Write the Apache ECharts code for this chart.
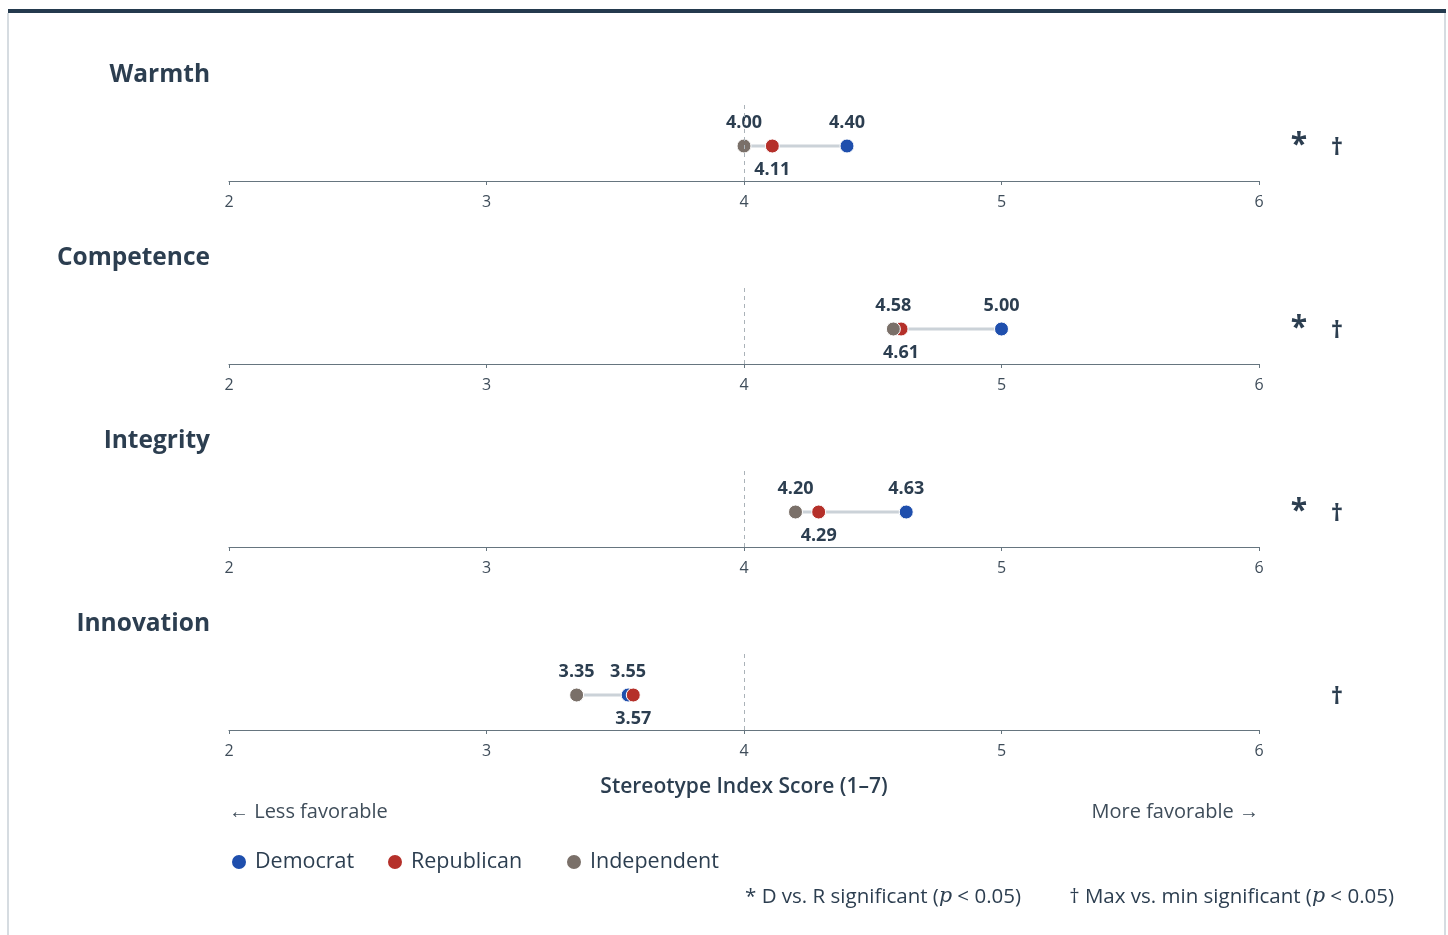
<!DOCTYPE html>
<html>
<head>
<meta charset="utf-8">
<title>Stereotype Index Scores by Party</title>
<script src="https://cdn.jsdelivr.net/npm/echarts@6/dist/echarts.min.js"></script>
<style>
  html, body { margin: 0; padding: 0; background: #ffffff; }
  #chart { width: 1448px; height: 935px; }
</style>
</head>
<body>
<div id="chart"></div>
<script>
// Stereotype dimensions, one panel each
const categories = ['Warmth', 'Competence', 'Integrity', 'Innovation'];

// Mean index scores by party identification
const democrat    = [4.40, 5.00, 4.63, 3.55];
const republican  = [4.11, 4.61, 4.29, 3.57];
const independent = [4.00, 4.58, 4.20, 3.35];

// Significance flags per dimension
const sigDvR    = [true, true, true, false];
const sigMaxMin = [true, true, true, true];

// Score axis ticks
const xTicks = [2, 3, 4, 5, 6];
const midpoint = 4;

const COLORS = {
  Democrat: '#1f4fad',
  Republican: '#b5302a',
  Independent: '#7a7069'
};
const INK = '#2c3e50';
const SOFT_INK = '#3f4d5a';
const FONT = '"Open Sans", "Noto Sans", sans-serif';

// Layout of the stacked panels
const PANEL_LEFT = 229;
const PANEL_RIGHT = 1259;
const FIRST_AXIS_Y = 181;
const PANEL_STEP = 183;
const PANEL_HEIGHT = 80;
const DOT_LEVEL = 35;   // height of the dot row above each axis, in panel units

const chart = echarts.init(document.getElementById('chart'), null, { renderer: 'canvas' });

const grids = [], xAxes = [], yAxes = [], series = [], graphics = [];

categories.forEach((cat, i) => {
  const axisY = FIRST_AXIS_Y + i * PANEL_STEP;
  grids.push({
    left: PANEL_LEFT,
    width: PANEL_RIGHT - PANEL_LEFT,
    top: axisY - PANEL_HEIGHT,
    height: PANEL_HEIGHT
  });
  xAxes.push({
    type: 'value',
    gridIndex: i,
    min: xTicks[0],
    max: xTicks[xTicks.length - 1],
    interval: 1,
    axisLine: { show: true, lineStyle: { color: '#66757f', width: 1.2 } },
    axisTick: { show: true, length: 4, lineStyle: { color: '#66757f' } },
    axisLabel: { color: SOFT_INK, fontSize: 16, fontFamily: FONT, margin: 13 },
    splitLine: { show: false }
  });
  yAxes.push({
    type: 'value',
    gridIndex: i,
    min: 0,
    max: PANEL_HEIGHT,
    show: false
  });

  const vals = [democrat[i], republican[i], independent[i]];
  const lo = Math.min(...vals), hi = Math.max(...vals);

  // connector between lowest and highest party score, plus midpoint reference
  series.push({
    type: 'line',
    xAxisIndex: i,
    yAxisIndex: i,
    data: [[lo, DOT_LEVEL], [hi, DOT_LEVEL]],
    symbol: 'none',
    silent: true,
    z: 1,
    lineStyle: { color: '#cbd2d8', width: 3 },
    markLine: {
      silent: true,
      symbol: 'none',
      label: { show: false },
      lineStyle: { color: '#aab2b8', type: [4, 4], width: 1 },
      data: [[{ coord: [midpoint, 0] }, { coord: [midpoint, PANEL_HEIGHT] }]]
    }
  });

  const parties = [
    ['Democrat', democrat[i], 'top'],
    ['Republican', republican[i], 'bottom'],
    ['Independent', independent[i], 'top']
  ];
  parties.forEach(([name, v, pos], k) => {
    series.push({
      type: 'scatter',
      name: name,
      xAxisIndex: i,
      yAxisIndex: i,
      data: [[v, DOT_LEVEL]],
      symbol: 'circle',
      symbolSize: 14,
      z: 2 + k,
      itemStyle: { color: COLORS[name], opacity: 1, borderColor: '#ffffff', borderWidth: 1 },
      label: {
        show: true,
        position: pos,
        distance: 7,
        formatter: p => p.value[0].toFixed(2),
        color: INK,
        fontSize: 18,
        fontWeight: 'bold',
        fontFamily: FONT
      },
      emphasis: { disabled: true }
    });
  });

  // panel heading
  graphics.push({
    type: 'text',
    x: 210,
    y: axisY - 106,
    style: {
      text: cat,
      fill: INK,
      font: 'bold 24.5px ' + FONT,
      textAlign: 'right',
      textVerticalAlign: 'middle'
    }
  });
  // significance markers
  if (sigDvR[i]) {
    graphics.push({
      type: 'text',
      x: 1299,
      y: axisY - 36,
      style: {
        text: '*',
        fill: INK,
        font: 'bold 30px ' + FONT,
        textAlign: 'center',
        textVerticalAlign: 'middle'
      }
    });
  }
  if (sigMaxMin[i]) {
    graphics.push({
      type: 'text',
      x: 1337,
      y: axisY - 33,
      style: {
        text: '†',
        fill: INK,
        font: 'bold 24px ' + FONT,
        textAlign: 'center',
        textVerticalAlign: 'middle'
      }
    });
  }
});

// frame
graphics.push(
  { type: 'rect', shape: { x: 8, y: 9, width: 1438, height: 4 }, style: { fill: '#243a4e' }, z: 10 },
  { type: 'rect', shape: { x: 7, y: 13, width: 2, height: 922 }, style: { fill: '#d6dce1' } },
  { type: 'rect', shape: { x: 1444, y: 13, width: 2, height: 922 }, style: { fill: '#d6dce1' } }
);

// axis title and direction cues
graphics.push(
  {
    type: 'text', x: (PANEL_LEFT + PANEL_RIGHT) / 2, y: 787,
    style: {
      text: 'Stereotype Index Score (1–7)', fill: INK,
      font: '600 21px ' + FONT, textAlign: 'center', textVerticalAlign: 'middle'
    }
  },
  {
    type: 'text', x: PANEL_LEFT, y: 812,
    style: {
      text: '← Less favorable', fill: SOFT_INK,
      font: '20px ' + FONT, textAlign: 'left', textVerticalAlign: 'middle'
    }
  },
  {
    type: 'text', x: PANEL_RIGHT, y: 812,
    style: {
      text: 'More favorable →', fill: SOFT_INK,
      font: '20px ' + FONT, textAlign: 'right', textVerticalAlign: 'middle'
    }
  }
);

// footnotes
const noteRich = {
  t: { fill: INK, font: '20.5px ' + FONT },
  p: { fill: INK, font: 'italic 20.5px "DejaVu Serif", "Liberation Serif", serif' }
};
graphics.push(
  {
    type: 'text', x: 1021, y: 897,
    style: {
      text: '{t|* D vs. R significant (}{p|p}{t| < 0.05)}', rich: noteRich,
      textAlign: 'right', textVerticalAlign: 'middle'
    }
  },
  {
    type: 'text', x: 1394, y: 897,
    style: {
      text: '{t|† Max vs. min significant (}{p|p}{t| < 0.05)}', rich: noteRich,
      textAlign: 'right', textVerticalAlign: 'middle'
    }
  }
);

const legendBase = {
  top: 851,
  padding: 0,
  icon: 'circle',
  itemWidth: 16,
  itemHeight: 16,
  itemGap: 0,
  selectedMode: false,
  textStyle: { color: INK, fontSize: 21.5, fontFamily: FONT, padding: [0, 0, 0, 3] }
};

chart.setOption({
  animation: false,
  backgroundColor: '#ffffff',
  textStyle: { fontFamily: FONT },
  grid: grids,
  xAxis: xAxes,
  yAxis: yAxes,
  legend: [
    Object.assign({}, legendBase, { left: 230, data: ['Democrat'] }),
    Object.assign({}, legendBase, { left: 386, data: ['Republican'] }),
    Object.assign({}, legendBase, { left: 565, data: ['Independent'] })
  ],
  series: series,
  graphic: graphics
});
</script>
</body>
</html>
